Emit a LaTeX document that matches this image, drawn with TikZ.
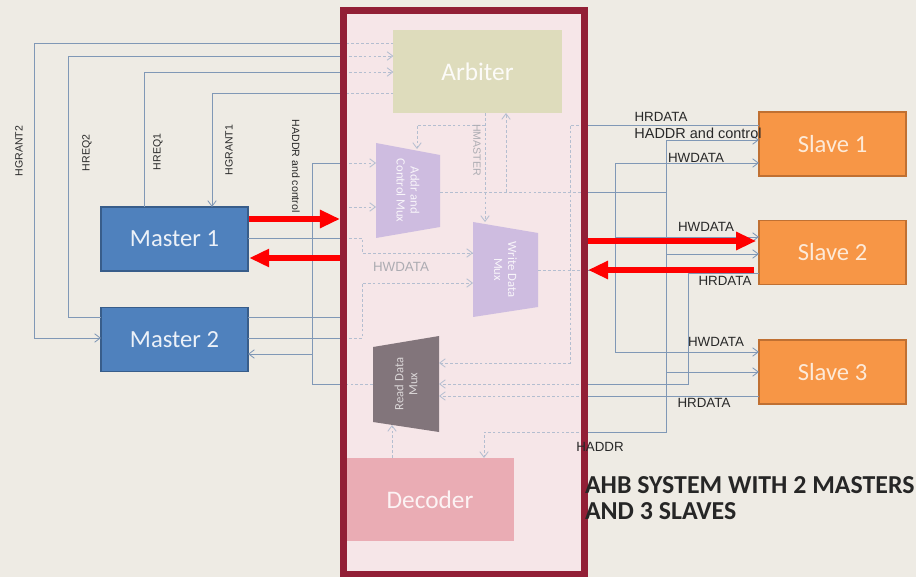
\documentclass[tikz,border=0pt]{standalone}
\usepackage{fontspec}
\setmainfont{Carlito}
\newfontfamily\lblfont{Liberation Sans}
\usetikzlibrary{arrows.meta}

\definecolor{bgc}{RGB}{238,235,228}
\definecolor{framec}{RGB}{146,31,54}
\definecolor{pinkc}{RGB}{246,230,232}
\definecolor{mfill}{RGB}{79,129,189}
\definecolor{mline}{RGB}{56,93,138}
\definecolor{mtext}{RGB}{236,241,248}
\definecolor{sfill}{RGB}{247,150,70}
\definecolor{sline}{RGB}{192,112,50}
\definecolor{stext}{RGB}{253,234,216}
\definecolor{sigc}{RGB}{128,152,182}
\definecolor{dsigc}{RGB}{180,190,208}
\definecolor{lblc}{RGB}{40,40,40}
\definecolor{arbc}{RGB}{222,220,188}
\definecolor{decc}{RGB}{234,172,180}
\definecolor{muxc}{RGB}{206,188,224}
\definecolor{rmuxc}{RGB}{130,117,123}
\definecolor{faint}{RGB}{172,172,178}

\begin{document}
\begin{tikzpicture}[x=0.025cm, y=-0.025cm, >={Straight Barb[length=4pt, width=6pt]},
  every node/.style={inner sep=0pt, outer sep=0pt},
  blk/.style={draw, line width=1pt, minimum width=3.675cm, minimum height=1.6cm, font=\fontsize{17.5}{20}\selectfont},
  master/.style={blk, fill=mfill, draw=mline, text=mtext},
  slave/.style={blk, fill=sfill, draw=sline, text=stext},
  unit/.style={minimum width=4.2cm, minimum height=2.075cm, font=\fontsize{18}{20}\selectfont},
  muxtxt/.style={align=center, font=\fontsize{9}{10}\selectfont},
  sig/.style={draw=sigc, line width=0.6pt},
  dsig/.style={draw=dsigc, line width=0.6pt, dash pattern=on 2pt off 1.5pt},
  lbl/.style={font=\lblfont\fontsize{9.5}{11}\selectfont, text=lblc},
  vlbl/.style={font=\lblfont\fontsize{7.5}{9}\selectfont, text=lblc},
  redbus/.style={draw=red, line width=0.15cm, -{Triangle[length=0.5cm, width=0.43cm]}}]

  \fill[bgc] (0,0) rectangle (916,577);
  \useasboundingbox (0,0) rectangle (916,577);

  \node[draw=framec, fill=pinkc, line width=0.175cm, minimum width=6cm, minimum height=14.075cm] (ahb) at (464,292.5) {};

  \node[master] (m1) at (174.5,239) {Master 1};
  \node[master] (m2) at (174.5,339.5) {Master 2};
  \node[slave] (s1) at (832.5,144) {Slave 1};
  \node[slave] (s2) at (832.5,252.5) {Slave 2};
  \node[slave] (s3) at (832.5,372) {Slave 3};

  % masters side
  \draw[sig, ->] (ahb.west |- 0,43) -| (34,338) -- (m2.west |- 0,338);
  \draw[sig] (m2.west |- 0,317) -| (68,56) -- (ahb.west |- 0,56);
  \draw[sig] (m1.north -| 144,0) |- (ahb.west |- 0,72);
  \draw[sig, ->] (ahb.west |- 0,93) -| (m1.north -| 212,0);
  \draw[sig] (ahb.west |- 0,163) -| (312,384) -- (ahb.west |- 0,384);
  \draw[sig, ->] (312,354) -- (m2.east |- 0,354);
  \draw[sig] (m1.east |- 0,238) -- (ahb.west |- 0,238);
  \draw[sig] (m2.east |- 0,317) -| (340,207) -- (ahb.west |- 0,207);
  \draw[sig] (m2.east |- 0,338) -- (ahb.west |- 0,338);

  % slaves side
  \draw[sig] (s1.west |- 0,125) -- (ahb.east |- 0,125);
  \draw[sig, ->] (ahb.east |- 0,432) -| (666,140) -- (s1.west |- 0,140);
  \draw[sig] (ahb.east |- 0,192) -- (666,192);
  \draw[sig, ->] (666,254) -- (s2.west |- 0,254);
  \draw[sig, ->] (666,372) -- (s3.west |- 0,372);
  \draw[sig, ->] (615,352) |- (s1.west |- 0,163);
  \draw[sig, ->] (615,352) -- (s3.west |- 0,352);
  \draw[sig, ->] (615,237) -- (s2.west |- 0,237);
  \draw[sig] (ahb.east |- 0,270) -- (615,270);
  \draw[sig] (s2.west |- 0,273) -| (688,384) -- (ahb.east |- 0,384);
  \draw[sig] (s3.west |- 0,396) -- (ahb.east |- 0,396);

  % inside the bus
  \node[unit, fill=arbc, text=white!90!arbc] (arb) at (477.5,71.5) {Arbiter};
  \node[unit, fill=decc, text=white!85!decc] (dec) at (430,499.5) {Decoder};
  \fill[muxc] (376,143) -- (440,155) -- (440,227) -- (376,238) -- cycle;
  \node[muxtxt, rotate=-90, text=white!85!muxc] (amux) at (408,190.5) {Addr and\\Control Mux};
  \fill[muxc] (473,222) -- (538,233) -- (538,307) -- (473,317) -- cycle;
  \node[muxtxt, rotate=-90, text=white!85!muxc] (wmux) at (505.5,269.5) {Write Data\\Mux};
  \fill[rmuxc] (373,347) -- (439,336) -- (439,432) -- (373,422) -- cycle;
  \node[muxtxt, rotate=90, text=white!70!rmuxc] (rmux) at (406,384) {Read Data\\Mux};

  \draw[dsig] (arb.west |- 0,43) -- (ahb.west |- 0,43);
  \draw[dsig, ->] (ahb.west |- 0,56) -- (arb.west |- 0,56);
  \draw[dsig, ->] (ahb.west |- 0,72) -- (arb.west |- 0,72);
  \draw[dsig] (arb.west |- 0,93) -- (ahb.west |- 0,93);
  \draw[dsig, ->] (ahb.west |- 0,163) -- (376,163);
  \draw[dsig, ->] (ahb.west |- 0,207) -- (376,207);
  \draw[dsig, ->] (ahb.west |- 0,238) -| (362,253) -- (473,253);
  \draw[dsig, ->] (ahb.west |- 0,338) -| (362,283) -- (473,283);
  \draw[dsig] (440,192) -- (ahb.east |- 0,192);
  \draw[dsig, ->] (506,192) -- (arb.south -| 506,0);
  \draw[dsig, ->] (arb.south -| 485,0) -- (485,222);
  \draw[dsig, ->] (485,125) -| (417,149);
  \draw[dsig] (538,270) -- (ahb.east |- 0,270);
  \draw[dsig, ->] (ahb.east |- 0,125) -| (570,363) -- (439,363);
  \draw[dsig, ->] (ahb.east |- 0,384) -- (439,384);
  \draw[dsig] (373,384) -- (ahb.west |- 0,384);
  \draw[dsig, ->] (ahb.east |- 0,396) -- (439,396);
  \draw[dsig, ->] (dec.north -| 392,0) -- (392,425);
  \draw[dsig, ->] (ahb.east |- 0,432) -| (dec.north -| 484,0);

  \draw[framec, line width=0.175cm] (ahb.north west) rectangle (ahb.south east);

  % labels
  \node[vlbl, rotate=90] (lg2) at (19,151) {HGRANT2};
  \node[vlbl, rotate=90] (lr2) at (87,153) {HREQ2};
  \node[vlbl, rotate=90] (lr1) at (158,152) {HREQ1};
  \node[vlbl, rotate=90] (lg1) at (229,150) {HGRANT1};
  \node[vlbl, rotate=-90, anchor=west] (lac) at (296,120) {HADDR and control};
  \node[vlbl, rotate=-90, text=faint] (lhm) at (477,150) {HMASTER};
  \node[lbl, text=faint] (lhw) at (401,267) {HWDATA};
  \node[lbl] (lrd1) at (661,117) {HRDATA};
  \node[lbl, font=\lblfont\fontsize{10.3}{12}\selectfont] (lac1) at (698,133) {HADDR and control};
  \node[lbl] (lwd1) at (696,158) {HWDATA};
  \node[lbl] (lwd2) at (706,227) {HWDATA};
  \node[lbl] (lrd2) at (725,281) {HRDATA};
  \node[lbl] (lwd3) at (716,342) {HWDATA};
  \node[lbl] (lrd3) at (704,403) {HRDATA};
  \node[lbl] (lad) at (600,447) {HADDR};
  \node[anchor=west, align=left, text=black!85, font=\fontsize{18.4}{18.5}\selectfont\bfseries] (title) at (585,498.5) {AHB SYSTEM WITH 2 MASTERS\\AND 3 SLAVES};

  % red buses
  \draw[redbus, shorten <=0.03cm, shorten >=0.1cm] (m1.east |- 0,219) -- (ahb.west |- 0,219);
  \draw[redbus, shorten <=0.1cm, shorten >=0.03cm] (ahb.west |- 0,258) -- (m1.east |- 0,258);
  \draw[redbus, shorten <=0.1cm, shorten >=0.07cm] (ahb.east |- 0,241) -- (s2.west |- 0,241);
  \draw[redbus, shorten <=0.12cm, shorten >=0.1cm] (s2.west |- 0,270) -- (ahb.east |- 0,270);
\end{tikzpicture}
\end{document}
